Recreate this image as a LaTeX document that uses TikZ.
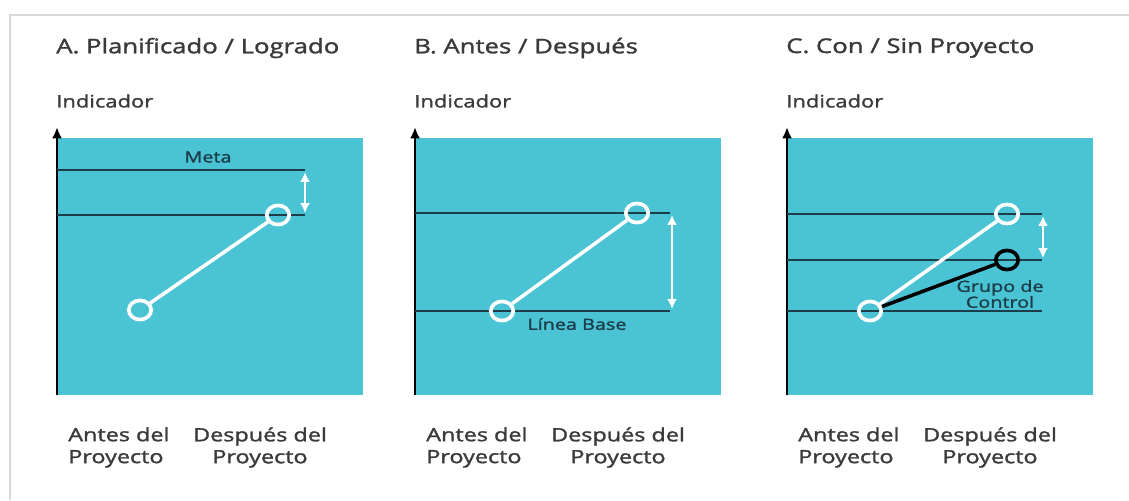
\documentclass[tikz,border=0pt]{standalone}
\usepackage{fontspec}
\setmainfont[FakeStretch=1.28,FakeBold=1.6]{Open Sans}
\usetikzlibrary{arrows.meta,shapes.geometric}
\definecolor{panel}{RGB}{74,196,212}
\definecolor{ink}{RGB}{58,58,60}
\definecolor{rule}{RGB}{28,62,72}
\begin{document}
\begin{tikzpicture}[x=0.025cm,y=-0.025cm,
    title/.style={anchor=west,inner sep=0pt,text=ink,font=\fontsize{14.3}{17}\selectfont},
    ylabel/.style={anchor=west,inner sep=0pt,text=ink,font=\fontsize{12.2}{14}\selectfont},
    xlabel/.style={anchor=north,inner sep=0pt,text=ink,font=\fontsize{13}{15.6}\selectfont},
    tag/.style={inner sep=0pt,text=rule,font=\fontsize{11}{11.3}\selectfont},
    axis/.style={-{Latex[length=8pt,width=7pt]},line width=1.9pt,black},
    level/.style={line width=0.9pt,rule},
    gap/.style={{Latex[length=7pt,width=7pt]}-{Latex[length=7pt,width=7pt]},white,line width=1.5pt},
    dot/.style={ellipse,draw=white,line width=2.6pt,minimum width=0.56cm,minimum height=0.48cm,inner sep=0pt},
    trend/.style={white,line width=2.5pt},
    control/.style={black,line width=2.5pt}]
    \useasboundingbox (0,0) rectangle (1129,500);
    % card
    \draw[gray!30,line width=1.5pt] (10,500) -- (10,15) -- (1129,15);
    % panels, axes and labels
    \foreach \ox/\n/\ttl in {0/A/{A. Planificado / Logrado}, 358/B/{B. Antes / Después}, 730/C/{C. Con / Sin Proyecto}} {
        \fill[panel] (\ox+57,138) rectangle (\ox+363,395);
        \coordinate (o\n) at (\ox+57,395);
        \coordinate (top\n) at (\ox+57,127);
        \draw[axis] (o\n) -- (top\n);
        \node[title] (ttl\n) at (\ox+56,48) {\ttl};
        \node[ylabel] (ind\n) at (\ox+56,101) {Indicador};
        \node[xlabel,anchor=north west,align=left] (pre\n) at (\ox+68,427) {Antes del\\Proyecto};
        \node[xlabel,align=center] (post\n) at (\ox+260,427) {Después del\\Proyecto};
    }
    % A: planned vs achieved
    \coordinate (metaL) at (57,170);
    \coordinate (metaR) at (305,170);
    \coordinate (doneL) at (57,215);
    \coordinate (doneR) at (305,215);
    \draw[level] (metaL) -- (metaR);
    \draw[level] (doneL) -- (doneR);
    \node[tag] (meta) at (208,157) {Meta};
    \coordinate (gapAt) at (305,172);
    \coordinate (gapAb) at (305,213);
    \draw[gap] (gapAt) -- (gapAb);
    \node[dot] (a0) at (140,310) {};
    \node[dot] (a1) at (278,215) {};
    \draw[trend] (a0) -- (a1);
    % B: before vs after
    \coordinate (hiBL) at (415,213);
    \coordinate (hiBR) at (670,213);
    \coordinate (loBL) at (415,311);
    \coordinate (loBR) at (670,311);
    \draw[level] (hiBL) -- (hiBR);
    \draw[level] (loBL) -- (loBR);
    \node[tag] (base) at (577,324) {Línea Base};
    \coordinate (gapBt) at (672,215);
    \coordinate (gapBb) at (672,309);
    \draw[gap] (gapBt) -- (gapBb);
    \node[dot] (b0) at (502,311) {};
    \node[dot] (b1) at (637,213) {};
    \draw[trend] (b0) -- (b1);
    % C: with vs without project
    \coordinate (hiCL) at (787,214);
    \coordinate (hiCR) at (1042,214);
    \coordinate (miCL) at (787,260);
    \coordinate (miCR) at (1042,260);
    \coordinate (loCL) at (787,311);
    \coordinate (loCR) at (1042,311);
    \draw[level] (hiCL) -- (hiCR);
    \draw[level] (miCL) -- (miCR);
    \draw[level] (loCL) -- (loCR);
    \coordinate (gapCt) at (1043,216);
    \coordinate (gapCb) at (1043,258);
    \draw[gap] (gapCt) -- (gapCb);
    \node[tag,align=center] (grupo) at (1000,294) {Grupo de\\Control};
    \node[dot] (c0) at (870,311) {};
    \node[dot] (c1) at (1007,214) {};
    \node[dot,draw=black] (cc) at (1007,260) {};
    \draw[trend] (c0) -- (c1);
    \draw[control] (c0) -- (cc);
\end{tikzpicture}
\end{document}
